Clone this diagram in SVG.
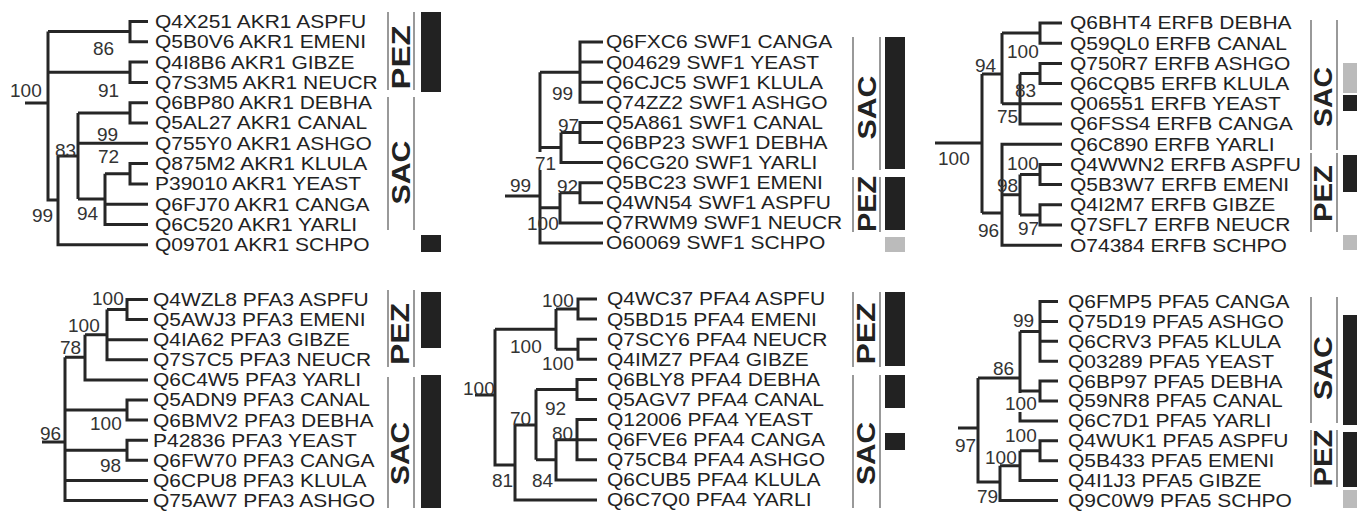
<svg xmlns="http://www.w3.org/2000/svg" width="1357" height="511" viewBox="0 0 1357 511">
<style>
.t{font-family:"Liberation Sans",Arial,sans-serif;font-size:17.6px;fill:#222}
.b{font-family:"Liberation Sans",Arial,sans-serif;font-size:19px;fill:#333}
.g{font-family:"Liberation Sans",Arial,sans-serif;font-size:25px;font-weight:bold;fill:#222}
.e{fill:none;stroke:#262626;stroke-width:3}
.k{stroke:#999;stroke-width:2}
.blk{fill:#222}
.gry{fill:#bbb}
</style>
<rect width="1357" height="511" fill="#fff"/>
<g id="connectors">
<path class="e" d="M25,103H48 M148,21.5H130V41.8H148 M130,31.6H48 M148,62.1H130V82.4H148 M130,72.3H48 M48,31.6V200H58 M148,102.7H130V123H148 M130,112.9H78 M148,143.3H78 M148,163.6H130V183.9H148 M130,173.8H105 M105,173.8V224.5H148 M148,204.2H105 M105,199H78 M78,112.9V199 M78,156H58 M58,156V244.8H148"/>
<path class="e" d="M505,196H540 M603,42H580V102.3H603 M580,62.1H603 M580,82.2H603 M580,72.2H540 M603,122.4H580V142.5H603 M580,132.5H561 M561,132.5V162.6H603 M561,147.5H540 M603,182.7H580V202.8H603 M580,192.7H560 M560,192.7V222.9H603 M560,207.8H540 M540,72.2V152 M540,170V243H603"/>
<path class="e" d="M935,143H982 M1062,23H1040V43.2H1062 M1040,33.1H1002 M1062,63.4H1040V83.6H1062 M1040,73.5H1020 M1020,73.5V124H1062 M1062,103.8H1002 M1002,33.1V103.8 M982,74H1002 M982,74V213 M1062,164.4H1040V184.6H1062 M1040,174.5H1020 M1062,204.8H1040V225H1062 M1040,214.9H1020 M1020,174.5V214.9 M1020,194.7H1002 M1062,144.2H1002V245.2H1062 M982,213H1002"/>
<path class="e" d="M148,299.5H127V319.6H148 M127,309.5H107 M107,309.5V359.8H148 M107,339.7H148 M107,334.7H85 M85,334.7V379.9H148 M85,357.3H65 M65,357.3V500.5H148 M148,400H127V420.1H148 M127,410H65 M148,440.2H127V460.3H148 M127,450.3H65 M148,480.4H65 M42,442H65"/>
<path class="e" d="M597,299H578V319.1H597 M578,309H556 M597,339.2H578V359.3H597 M578,349.3H556 M556,309V349.3 M556,329.2H495 M495,329.2V465H515 M475,395H495 M597,379.4H577V399.5H597 M577,389.5H536 M597,419.6H577V459.8H597 M577,439.7H597 M577,439.7H556 M556,439.7V479.9H597 M556,459.8H536 M536,389.5V459.8 M536,425H515 M515,425V500H597"/>
<path class="e" d="M1058,301.5H1040V361.2H1058 M1040,321.4H1058 M1040,341.3H1058 M1040,331.4H1020 M1058,381.1H1040V401H1058 M1040,391H1020 M1020,331.4V393 M1020,412V420.9H1058 M1020,378H978 M978,378V482H1000 M958,428H978 M1058,440.8H1040V460.7H1058 M1040,450.75H1020 M1020,450.75V480.6H1058 M1020,465.7H1000 M1000,465.7V500.5H1058"/>
</g>
<g id="panel-akr1">
<g transform="translate(155 0) scale(1.193 1)">
<g id="n-Q4X251"><text class="t" x="0" y="28">Q4X251 AKR1 ASPFU</text></g>
<g id="n-Q5B0V6"><text class="t" x="0" y="48.3">Q5B0V6 AKR1 EMENI</text></g>
<g id="n-Q4I8B6"><text class="t" x="0" y="68.6">Q4I8B6 AKR1 GIBZE</text></g>
<g id="n-Q7S3M5"><text class="t" x="0" y="88.9">Q7S3M5 AKR1 NEUCR</text></g>
<g id="n-Q6BP80"><text class="t" x="0" y="109.2">Q6BP80 AKR1 DEBHA</text></g>
<g id="n-Q5AL27"><text class="t" x="0" y="129.5">Q5AL27 AKR1 CANAL</text></g>
<g id="n-Q755Y0"><text class="t" x="0" y="149.8">Q755Y0 AKR1 ASHGO</text></g>
<g id="n-Q875M2"><text class="t" x="0" y="170.1">Q875M2 AKR1 KLULA</text></g>
<g id="n-P39010"><text class="t" x="0" y="190.4">P39010 AKR1 YEAST</text></g>
<g id="n-Q6FJ70"><text class="t" x="0" y="210.7">Q6FJ70 AKR1 CANGA</text></g>
<g id="n-Q6C520"><text class="t" x="0" y="231">Q6C520 AKR1 YARLI</text></g>
<g id="n-Q09701"><text class="t" x="0" y="251.3">Q09701 AKR1 SCHPO</text></g>
</g>
<g id="s-akr1"><text class="b" x="10" y="97">100</text><text class="b" x="93" y="55">86</text><text class="b" x="98" y="97">91</text><text class="b" x="97" y="141">99</text><text class="b" x="55" y="157">83</text><text class="b" x="98" y="163">72</text><text class="b" x="77" y="220">94</text><text class="b" x="32" y="222">99</text></g>
<g id="c-akr1">
<line class="k" x1="388" y1="12" x2="388" y2="90"/><line class="k" x1="414" y1="12" x2="414" y2="90"/>
<line class="k" x1="388" y1="97" x2="388" y2="230"/><line class="k" x1="414" y1="97" x2="414" y2="230"/>
<text class="g" transform="rotate(-90 401 57.5)" x="401" y="66.5" text-anchor="middle" textLength="64" lengthAdjust="spacingAndGlyphs">PEZ</text>
<text class="g" transform="rotate(-90 401 172.5)" x="401" y="181.5" text-anchor="middle" textLength="64" lengthAdjust="spacingAndGlyphs">SAC</text>
<rect class="blk" x="421" y="12" width="20" height="80"/><rect class="blk" x="421" y="235" width="20" height="17"/>
</g>
</g>
<g id="panel-swf1">
<g transform="translate(606 0) scale(1.193 1)">
<g id="n-Q6FXC6"><text class="t" x="0" y="48.5">Q6FXC6 SWF1 CANGA</text></g>
<g id="n-Q04629"><text class="t" x="0" y="68.6">Q04629 SWF1 YEAST</text></g>
<g id="n-Q6CJC5"><text class="t" x="0" y="88.7">Q6CJC5 SWF1 KLULA</text></g>
<g id="n-Q74ZZ2"><text class="t" x="0" y="108.8">Q74ZZ2 SWF1 ASHGO</text></g>
<g id="n-Q5A861"><text class="t" x="0" y="128.9">Q5A861 SWF1 CANAL</text></g>
<g id="n-Q6BP23"><text class="t" x="0" y="149">Q6BP23 SWF1 DEBHA</text></g>
<g id="n-Q6CG20"><text class="t" x="0" y="169.1">Q6CG20 SWF1 YARLI</text></g>
<g id="n-Q5BC23"><text class="t" x="0" y="189.2">Q5BC23 SWF1 EMENI</text></g>
<g id="n-Q4WN54"><text class="t" x="0" y="209.3">Q4WN54 SWF1 ASPFU</text></g>
<g id="n-Q7RWM9"><text class="t" x="0" y="229.4">Q7RWM9 SWF1 NEUCR</text></g>
<g id="n-O60069"><text class="t" x="0" y="249.5">O60069 SWF1 SCHPO</text></g>
</g>
<g id="s-swf1"><text class="b" x="552" y="100">99</text><text class="b" x="558" y="132">97</text><text class="b" x="535" y="170">71</text><text class="b" x="557" y="193">92</text><text class="b" x="527" y="230">100</text><text class="b" x="510" y="192">99</text></g>
<g id="c-swf1">
<line class="k" x1="853" y1="37" x2="853" y2="170"/><line class="k" x1="880" y1="37" x2="880" y2="170"/>
<line class="k" x1="853" y1="177" x2="853" y2="232"/><line class="k" x1="880" y1="177" x2="880" y2="232"/>
<text class="g" transform="rotate(-90 867 107.5)" x="867" y="116.5" text-anchor="middle" textLength="64" lengthAdjust="spacingAndGlyphs">SAC</text>
<text class="g" transform="rotate(-90 867 204)" x="867" y="213" text-anchor="middle" textLength="56" lengthAdjust="spacingAndGlyphs">PEZ</text>
<rect class="blk" x="885" y="37" width="20" height="132"/><rect class="blk" x="885" y="177" width="20" height="53"/><rect class="gry" x="885" y="237" width="20" height="15"/>
</g>
</g>
<g id="panel-erfb">
<g transform="translate(1070 0) scale(1.193 1)">
<g id="n-Q6BHT4"><text class="t" x="0" y="29.5">Q6BHT4 ERFB DEBHA</text></g>
<g id="n-Q59QL0"><text class="t" x="0" y="49.7">Q59QL0 ERFB CANAL</text></g>
<g id="n-Q750R7"><text class="t" x="0" y="69.9">Q750R7 ERFB ASHGO</text></g>
<g id="n-Q6CQB5"><text class="t" x="0" y="90.1">Q6CQB5 ERFB KLULA</text></g>
<g id="n-Q06551"><text class="t" x="0" y="110.3">Q06551 ERFB YEAST</text></g>
<g id="n-Q6FSS4"><text class="t" x="0" y="130.5">Q6FSS4 ERFB CANGA</text></g>
<g id="n-Q6C890"><text class="t" x="0" y="150.7">Q6C890 ERFB YARLI</text></g>
<g id="n-Q4WWN2"><text class="t" x="0" y="170.9">Q4WWN2 ERFB ASPFU</text></g>
<g id="n-Q5B3W7"><text class="t" x="0" y="191.1">Q5B3W7 ERFB EMENI</text></g>
<g id="n-Q4I2M7"><text class="t" x="0" y="211.3">Q4I2M7 ERFB GIBZE</text></g>
<g id="n-Q7SFL7"><text class="t" x="0" y="231.5">Q7SFL7 ERFB NEUCR</text></g>
<g id="n-O74384"><text class="t" x="0" y="251.7">O74384 ERFB SCHPO</text></g>
</g>
<g id="s-erfb"><text class="b" x="1007" y="58">100</text><text class="b" x="1015" y="97">83</text><text class="b" x="997" y="123">75</text><text class="b" x="975" y="72">94</text><text class="b" x="938" y="165">100</text><text class="b" x="1007" y="170">100</text><text class="b" x="997" y="192">98</text><text class="b" x="1018" y="235">97</text><text class="b" x="978" y="237">96</text></g>
<g id="c-erfb">
<line class="k" x1="1311" y1="20" x2="1311" y2="150"/><line class="k" x1="1337" y1="20" x2="1337" y2="150"/>
<line class="k" x1="1311" y1="153" x2="1311" y2="232"/><line class="k" x1="1337" y1="153" x2="1337" y2="232"/>
<text class="g" transform="rotate(-90 1323 97)" x="1323" y="106" text-anchor="middle" textLength="60" lengthAdjust="spacingAndGlyphs">SAC</text>
<text class="g" transform="rotate(-90 1323 193.5)" x="1323" y="202.5" text-anchor="middle" textLength="57" lengthAdjust="spacingAndGlyphs">PEZ</text>
<rect class="gry" x="1343" y="63" width="14" height="30"/><rect class="blk" x="1343" y="95" width="14" height="16"/><rect class="blk" x="1343" y="155" width="14" height="37"/><rect class="gry" x="1343" y="235" width="14" height="15"/>
</g>
</g>
<g id="panel-pfa3">
<g transform="translate(153 0) scale(1.193 1)">
<g id="n-Q4WZL8"><text class="t" x="0" y="306">Q4WZL8 PFA3 ASPFU</text></g>
<g id="n-Q5AWJ3"><text class="t" x="0" y="326.1">Q5AWJ3 PFA3 EMENI</text></g>
<g id="n-Q4IA62"><text class="t" x="0" y="346.2">Q4IA62 PFA3 GIBZE</text></g>
<g id="n-Q7S7C5"><text class="t" x="0" y="366.3">Q7S7C5 PFA3 NEUCR</text></g>
<g id="n-Q6C4W5"><text class="t" x="0" y="386.4">Q6C4W5 PFA3 YARLI</text></g>
<g id="n-Q5ADN9"><text class="t" x="0" y="406.5">Q5ADN9 PFA3 CANAL</text></g>
<g id="n-Q6BMV2"><text class="t" x="0" y="426.6">Q6BMV2 PFA3 DEBHA</text></g>
<g id="n-P42836"><text class="t" x="0" y="446.7">P42836 PFA3 YEAST</text></g>
<g id="n-Q6FW70"><text class="t" x="0" y="466.8">Q6FW70 PFA3 CANGA</text></g>
<g id="n-Q6CPU8"><text class="t" x="0" y="486.9">Q6CPU8 PFA3 KLULA</text></g>
<g id="n-Q75AW7"><text class="t" x="0" y="507">Q75AW7 PFA3 ASHGO</text></g>
</g>
<g id="s-pfa3"><text class="b" x="92" y="305">100</text><text class="b" x="68" y="332">100</text><text class="b" x="60" y="354">78</text><text class="b" x="40" y="440">96</text><text class="b" x="90" y="430">100</text><text class="b" x="100" y="472">98</text></g>
<g id="c-pfa3">
<line class="k" x1="388" y1="290" x2="388" y2="367"/><line class="k" x1="414" y1="290" x2="414" y2="367"/>
<line class="k" x1="388" y1="377" x2="388" y2="508"/><line class="k" x1="414" y1="377" x2="414" y2="508"/>
<text class="g" transform="rotate(-90 400 334)" x="400" y="343" text-anchor="middle" textLength="62" lengthAdjust="spacingAndGlyphs">PEZ</text>
<text class="g" transform="rotate(-90 400 453.5)" x="400" y="462.5" text-anchor="middle" textLength="63" lengthAdjust="spacingAndGlyphs">SAC</text>
<rect class="blk" x="421" y="292" width="20" height="56"/><rect class="blk" x="421" y="375" width="20" height="133"/>
</g>
</g>
<g id="panel-pfa4">
<g transform="translate(607 0) scale(1.193 1)">
<g id="n-Q4WC37"><text class="t" x="0" y="305.5">Q4WC37 PFA4 ASPFU</text></g>
<g id="n-Q5BD15"><text class="t" x="0" y="325.6">Q5BD15 PFA4 EMENI</text></g>
<g id="n-Q7SCY6"><text class="t" x="0" y="345.7">Q7SCY6 PFA4 NEUCR</text></g>
<g id="n-Q4IMZ7"><text class="t" x="0" y="365.8">Q4IMZ7 PFA4 GIBZE</text></g>
<g id="n-Q6BLY8"><text class="t" x="0" y="385.9">Q6BLY8 PFA4 DEBHA</text></g>
<g id="n-Q5AGV7"><text class="t" x="0" y="406">Q5AGV7 PFA4 CANAL</text></g>
<g id="n-Q12006"><text class="t" x="0" y="426.1">Q12006 PFA4 YEAST</text></g>
<g id="n-Q6FVE6"><text class="t" x="0" y="446.2">Q6FVE6 PFA4 CANGA</text></g>
<g id="n-Q75CB4"><text class="t" x="0" y="466.3">Q75CB4 PFA4 ASHGO</text></g>
<g id="n-Q6CUB5"><text class="t" x="0" y="486.4">Q6CUB5 PFA4 KLULA</text></g>
<g id="n-Q6C7Q0"><text class="t" x="0" y="506.5">Q6C7Q0 PFA4 YARLI</text></g>
</g>
<g id="s-pfa4"><text class="b" x="542" y="307">100</text><text class="b" x="542" y="370">100</text><text class="b" x="510" y="353">100</text><text class="b" x="463" y="395">100</text><text class="b" x="492" y="487">81</text><text class="b" x="510" y="425">70</text><text class="b" x="545" y="415">92</text><text class="b" x="532" y="487">84</text><text class="b" x="552" y="440">80</text></g>
<g id="c-pfa4">
<line class="k" x1="853" y1="292" x2="853" y2="367"/><line class="k" x1="880" y1="292" x2="880" y2="367"/>
<line class="k" x1="853" y1="375" x2="853" y2="508"/><line class="k" x1="880" y1="375" x2="880" y2="508"/>
<text class="g" transform="rotate(-90 866 333.5)" x="866" y="342.5" text-anchor="middle" textLength="62" lengthAdjust="spacingAndGlyphs">PEZ</text>
<text class="g" transform="rotate(-90 866 453.5)" x="866" y="462.5" text-anchor="middle" textLength="63" lengthAdjust="spacingAndGlyphs">SAC</text>
<rect class="blk" x="885" y="292" width="20" height="74"/><rect class="blk" x="885" y="375" width="20" height="33"/><rect class="blk" x="885" y="433" width="20" height="17"/>
</g>
</g>
<g id="panel-pfa5">
<g transform="translate(1068 0) scale(1.193 1)">
<g id="n-Q6FMP5"><text class="t" x="0" y="308">Q6FMP5 PFA5 CANGA</text></g>
<g id="n-Q75D19"><text class="t" x="0" y="327.9">Q75D19 PFA5 ASHGO</text></g>
<g id="n-Q6CRV3"><text class="t" x="0" y="347.8">Q6CRV3 PFA5 KLULA</text></g>
<g id="n-Q03289"><text class="t" x="0" y="367.7">Q03289 PFA5 YEAST</text></g>
<g id="n-Q6BP97"><text class="t" x="0" y="387.6">Q6BP97 PFA5 DEBHA</text></g>
<g id="n-Q59NR8"><text class="t" x="0" y="407.5">Q59NR8 PFA5 CANAL</text></g>
<g id="n-Q6C7D1"><text class="t" x="0" y="427.4">Q6C7D1 PFA5 YARLI</text></g>
<g id="n-Q4WUK1"><text class="t" x="0" y="447.3">Q4WUK1 PFA5 ASPFU</text></g>
<g id="n-Q5B433"><text class="t" x="0" y="467.2">Q5B433 PFA5 EMENI</text></g>
<g id="n-Q4I1J3"><text class="t" x="0" y="487.1">Q4I1J3 PFA5 GIBZE</text></g>
<g id="n-Q9C0W9"><text class="t" x="0" y="507">Q9C0W9 PFA5 SCHPO</text></g>
</g>
<g id="s-pfa5"><text class="b" x="1013" y="327">99</text><text class="b" x="1005" y="410">100</text><text class="b" x="993" y="375">86</text><text class="b" x="955" y="452">97</text><text class="b" x="977" y="503">79</text><text class="b" x="985" y="464">100</text><text class="b" x="1005" y="442">100</text></g>
<g id="c-pfa5">
<line class="k" x1="1311" y1="297" x2="1311" y2="423"/><line class="k" x1="1337" y1="297" x2="1337" y2="423"/>
<line class="k" x1="1311" y1="430" x2="1311" y2="487"/><line class="k" x1="1337" y1="430" x2="1337" y2="487"/>
<text class="g" transform="rotate(-90 1323 368)" x="1323" y="377" text-anchor="middle" textLength="64" lengthAdjust="spacingAndGlyphs">SAC</text>
<text class="g" transform="rotate(-90 1323 458)" x="1323" y="467" text-anchor="middle" textLength="57" lengthAdjust="spacingAndGlyphs">PEZ</text>
<rect class="blk" x="1343" y="315" width="14" height="110"/><rect class="blk" x="1343" y="432" width="14" height="55"/><rect class="gry" x="1343" y="490" width="14" height="18"/>
</g>
</g>
</svg>
